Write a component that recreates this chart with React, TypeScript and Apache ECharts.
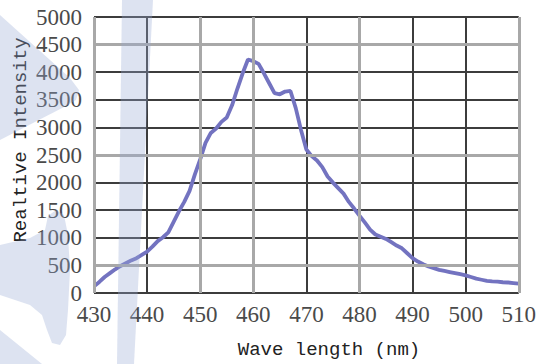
import React, { useEffect, useRef } from "react";
import * as echarts from "echarts";

const wavelengths = [
  430, 431, 432, 433, 434, 435, 436, 437, 438, 439,
  440, 441, 442, 443, 444, 445, 446, 447, 448, 449,
  450, 451, 452, 453, 454, 455, 456, 457, 458, 459,
  460, 461, 462, 463, 464, 465, 466, 467, 468, 469,
  470, 471, 472, 473, 474, 475, 476, 477, 478, 479,
  480, 481, 482, 483, 484, 485, 486, 487, 488, 489,
  490, 491, 492, 493, 494, 495, 496, 497, 498, 499,
  500, 501, 502, 503, 504, 505, 506, 507, 508, 509, 510,
];
const intensity = [
  120, 200, 290, 360, 430, 490, 540, 590, 630, 690,
  750, 840, 940, 1010, 1100, 1290, 1480, 1650, 1850, 2150,
  2420, 2720, 2900, 2980, 3100, 3180, 3400, 3700, 3980, 4230,
  4200, 4150, 3980, 3800, 3620, 3600, 3650, 3660, 3350, 2950,
  2600, 2480, 2400, 2280, 2110, 2000, 1900, 1800, 1650, 1530,
  1400, 1280, 1150, 1060, 1020, 980, 920, 860, 810, 720,
  630, 570, 520, 480, 450, 420, 400, 380, 360, 340,
  320, 290, 260, 240, 220, 210, 205, 195, 190, 180, 170,
];

// grid lines that appear lighter (gray) in the reference
const grayXLines = [430, 450, 460, 480, 510];
const grayYLines = [500, 2500, 4500];

const xTitle = "Wave length (nm)";
const yTitle = "Realtive Intensity";

const DARK = "#3c3c3c";
const GRAY = "#a8a8a8";
const WM = "rgba(151,170,212,0.33)";

export default function App() {
  const ref = useRef<HTMLDivElement>(null);
  useEffect(() => {
    if (!ref.current) return;
    const chart = echarts.init(ref.current, undefined, { renderer: "svg" });
    const data = wavelengths.map((w, i) => [w, intensity[i]]);
    const tickFont = {
      color: "#4a4a4a",
      fontFamily: "Liberation Sans Narrow",
      fontSize: 23,
      formatter: (v: number) => String(v),
    };
    chart.setOption({
      animation: false,
      backgroundColor: "#ffffff",
      grid: { left: 94, right: 15, top: 17, bottom: 71, containLabel: false },
      xAxis: {
        type: "value",
        min: 430,
        max: 510,
        interval: 10,
        axisLine: { show: false },
        axisTick: { show: false },
        axisLabel: { margin: 10, ...tickFont },
        splitLine: {
          show: true,
          showMinLine: true,
          showMaxLine: true,
          lineStyle: { width: 2, color: DARK },
        },
      },
      yAxis: {
        type: "value",
        min: 0,
        max: 5000,
        interval: 500,
        axisLine: { show: false },
        axisTick: { show: false },
        axisLabel: { margin: 12, ...tickFont },
        splitLine: {
          show: true,
          showMinLine: true,
          showMaxLine: true,
          lineStyle: { width: 2, color: DARK },
        },
      },
      series: [
        {
          type: "line",
          data: [],
          z: 1,
          markLine: {
            silent: true,
            symbol: "none",
            label: { show: false },
            lineStyle: { type: "solid", color: GRAY, width: 3 },
            data: [
              ...grayXLines.map((v) => ({ xAxis: v })),
              ...grayYLines.map((v) => ({ yAxis: v })),
            ],
          },
        },
        {
          type: "line",
          data,
          showSymbol: false,
          symbol: "none",
          lineStyle: { width: 3.8, color: "#7373c0" },
          z: 3,
        },
      ],
      graphic: [
        {
          type: "text",
          x: 329,
          y: 350,
          z: 5,
          style: {
            text: xTitle,
            fill: "#222",
            font: "19px 'Liberation Mono'",
            align: "center",
            verticalAlign: "middle",
          },
        },
        {
          type: "text",
          x: 21,
          y: 140,
          rotation: Math.PI / 2,
          z: 5,
          style: {
            text: yTitle,
            fill: "#222",
            font: "19px 'Liberation Mono'",
            align: "center",
            verticalAlign: "middle",
          },
        },
        {
          type: "polygon",
          z: 20,
          silent: true,
          shape: { points: [[122, 0], [153, 0], [134, 364], [117, 364]] },
          style: { fill: WM },
        },
        {
          type: "polygon",
          z: 20,
          silent: true,
          shape: {
            points: [[0, 15], [70, 78], [79, 90], [76, 100], [66, 106], [0, 140]],
          },
          style: { fill: WM },
        },
        {
          type: "polygon",
          z: 20,
          silent: true,
          shape: {
            points: [
              [0, 245], [30, 238], [45, 230], [48, 216], [56, 210], [64, 215],
              [68, 235], [70, 270], [68, 310], [66, 335], [60, 345], [52, 343],
              [47, 330], [42, 315], [30, 305], [0, 295],
            ],
          },
          style: { fill: WM },
        },
        {
          type: "polygon",
          z: 20,
          silent: true,
          shape: { points: [[0, 330], [42, 364], [0, 364]] },
          style: { fill: WM },
        },
      ],
    });
    return () => chart.dispose();
  }, []);
  return (
    <div
      ref={ref}
      style={{ position: "fixed", left: 0, top: 0, width: 539, height: 364 }}
    />
  );
}
